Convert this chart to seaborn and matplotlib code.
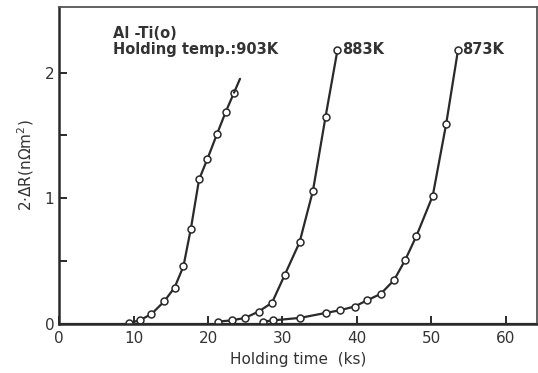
import pandas as pd
import numpy as np
import matplotlib
matplotlib.use("Agg")
import matplotlib.pyplot as plt
import seaborn as sns

# values (holding time in ks, 2*dR in nOhm m^2)
t_903 = [9.4, 10.8, 12.4, 14.1, 15.5, 16.7, 17.7, 18.8, 19.9, 21.2, 22.4, 23.5]
r_903 = [0.01, 0.03, 0.08, 0.18, 0.29, 0.46, 0.76, 1.15, 1.31, 1.51, 1.69, 1.84]
tail_903_t = [23.5, 24.3]
tail_903_r = [1.84, 1.95]

t_883 = [21.3, 23.2, 25.0, 26.8, 28.6, 30.3, 32.3, 34.1, 35.8, 37.4]
r_883 = [0.02, 0.03, 0.05, 0.10, 0.17, 0.39, 0.65, 1.06, 1.65, 2.18]

t_873 = [27.4, 28.8, 32.4, 35.9, 37.7, 39.7, 41.4, 43.2, 45.0, 46.5, 48.0, 50.2, 52.0, 53.6]
r_873 = [0.02, 0.03, 0.05, 0.09, 0.11, 0.14, 0.19, 0.24, 0.35, 0.51, 0.70, 1.02, 1.59, 2.18]

series = ["903K", "883K", "873K"]

df = pd.concat([
    pd.DataFrame({"t": t_903, "r": r_903, "temp": "903K"}),
    pd.DataFrame({"t": t_883, "r": r_883, "temp": "883K"}),
    pd.DataFrame({"t": t_873, "r": r_873, "temp": "873K"}),
])

sns.set_style("ticks")
plt.rcParams["font.family"] = ["DejaVu Sans"]

fig = plt.figure(figsize=(5.38, 3.73), dpi=100)
ax = fig.add_axes([0.110, 0.131, 0.888, 0.850])

ink = "#2a2a2a"
sns.lineplot(data=df, x="t", y="r", hue="temp", hue_order=series,
             palette=[ink] * 3, sort=False, estimator=None, marker="o",
             markersize=5, markerfacecolor="white", markeredgecolor=ink,
             markeredgewidth=1.1, linewidth=1.6, legend=False, ax=ax)
sns.lineplot(x=tail_903_t, y=tail_903_r, color=ink, linewidth=1.6,
             sort=False, estimator=None, legend=False, ax=ax)
ax.axhline(0, color=ink, linewidth=1.6, zorder=1)

ax.set_xlim(0, 64.2)
ax.set_ylim(0, 2.52)
ax.set_xticks([0, 10, 20, 30, 40, 50, 60])
ax.set_yticks([0, 1, 2])
ax.set_yticks([0.5, 1.5], minor=True)
ax.tick_params(axis="both", which="both", direction="in", length=6,
               width=1.4, color=ink, labelsize=11, labelcolor="#333333")
ax.tick_params(axis="x", pad=5)

for side in ["left", "bottom"]:
    ax.spines[side].set_linewidth(1.8)
    ax.spines[side].set_color(ink)
for side in ["top", "right"]:
    ax.spines[side].set_linewidth(1.3)
    ax.spines[side].set_color("#555555")

ax.set_xlabel("Holding time  (ks)", fontsize=11, color="#333333", labelpad=4)
ax.set_ylabel(r"2$\cdot\Delta$R(n$\Omega$m$^2$)", fontsize=11,
              color="#333333", labelpad=6)

txt = dict(fontsize=10.5, color="#333333", fontweight="bold", va="center")
ax.text(7.2, 2.31, "Al -Ti(o)", **txt)
ax.text(7.2, 2.18, "Holding temp.:903K", **txt)
ax.text(38.0, 2.18, "883K", **txt)
ax.text(54.2, 2.18, "873K", **txt)

fig.savefig("out.png", dpi=100)
